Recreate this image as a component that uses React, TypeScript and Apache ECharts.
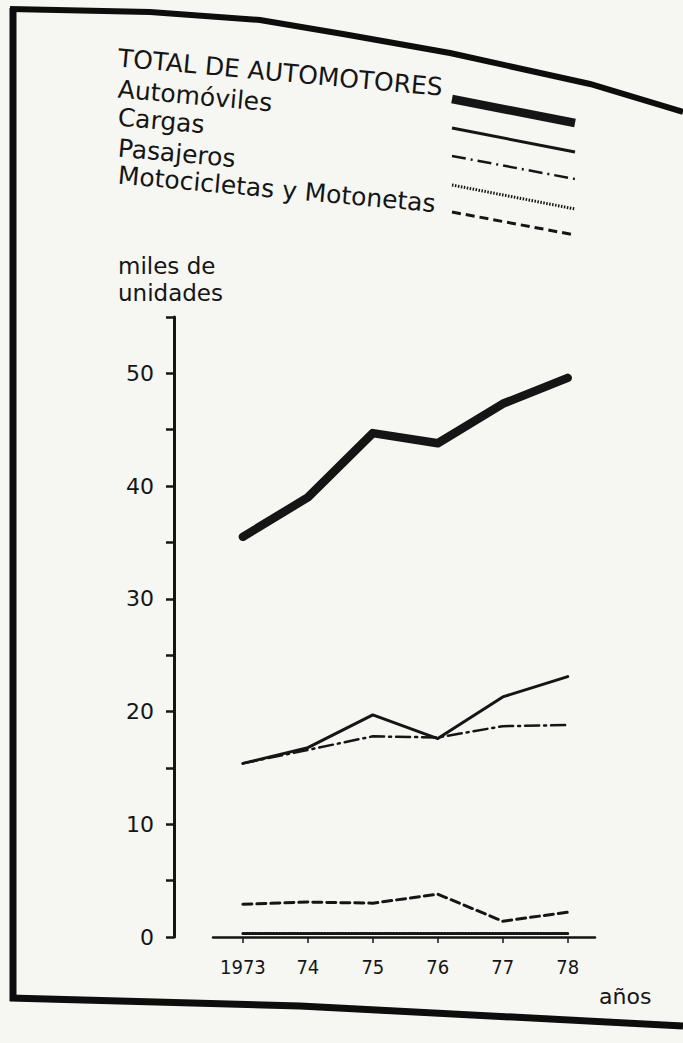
import React, { useEffect, useRef } from "react";
import * as echarts from "echarts";

const years = [1973, 1974, 1975, 1976, 1977, 1978];
const total = [35.5, 39.0, 44.7, 43.8, 47.3, 49.6];
const automoviles = [15.4, 16.8, 19.7, 17.6, 21.3, 23.1];
const cargas = [15.4, 16.6, 17.8, 17.7, 18.7, 18.8];
const pasajeros = [0.3, 0.3, 0.3, 0.3, 0.3, 0.3];
const motos = [2.9, 3.1, 3.0, 3.8, 1.4, 2.2];
const seriesNames = [
  "TOTAL DE AUTOMOTORES",
  "Automóviles",
  "Cargas",
  "Pasajeros",
  "Motocicletas y Motonetas",
];
const yLabels = [0, 10, 20, 30, 40, 50];

const FONT = "'DejaVu Sans', sans-serif";
const FONT_C = "'DejaVu Sans Condensed', 'DejaVu Sans', sans-serif";
const INK = "#151515";

const styles: any[] = [
  { width: 8.5, type: "solid" },
  { width: 3, type: "solid" },
  { width: 2.5, type: [14, 5, 2, 5] },
  { width: 3, type: [1.5, 1.5] },
  { width: 3, type: [9, 5] },
];

export default function App() {
  const ref = useRef<HTMLDivElement>(null);
  useEffect(() => {
    if (!ref.current) return;
    const chart = echarts.init(ref.current, null, { renderer: "svg" });
    const dataSets = [total, automoviles, cargas, pasajeros, motos];

    const legendTextY = [58, 89, 117, 148, 175];
    const legendLines = [
      [452, 99, 575, 123],
      [452, 128, 575, 152],
      [452, 156, 575, 179],
      [452, 185, 575, 209],
      [452, 212, 575, 235],
    ];
    const graphics: any[] = [];
    seriesNames.forEach((n, i) => {
      graphics.push({
        type: "text",
        x: 118,
        y: legendTextY[i],
        rotation: -0.09,
        style: {
          text: n,
          font: `25px ${FONT}`,
          fill: INK,
          textVerticalAlign: "middle",
        },
      });
      const l = legendLines[i];
      graphics.push({
        type: "line",
        shape: { x1: l[0], y1: l[1], x2: l[2], y2: l[3] },
        style: {
          stroke: INK,
          lineWidth: styles[i].width,
          lineDash: Array.isArray(styles[i].type) ? styles[i].type : null,
        },
      });
    });
    graphics.push(
      {
        type: "text",
        x: 118,
        y: 252,
        style: { text: "miles de\nunidades", font: `23px ${FONT}`, fill: INK, lineHeight: 27 },
      },
      {
        type: "text",
        x: 599,
        y: 996,
        style: { text: "años", font: `22px ${FONT}`, fill: INK, textVerticalAlign: "middle" },
      },
      // frame
      {
        type: "line",
        shape: { x1: 13, y1: 8, x2: 13, y2: 1001 },
        style: { stroke: "#0d0d0d", lineWidth: 7 },
      },
      {
        type: "polyline",
        shape: { points: [[10, 998], [300, 1006], [683, 1026]] },
        style: { stroke: "#0d0d0d", lineWidth: 7, fill: null },
      },
      {
        type: "polyline",
        shape: {
          points: [[10, 9], [150, 12], [260, 20], [343, 34], [450, 53], [590, 84], [683, 112]],
        },
        style: { stroke: "#0d0d0d", lineWidth: 6, fill: null },
      }
    );

    chart.setOption({
      animation: false,
      backgroundColor: "#f6f6f3",
      grid: { left: 213, right: 88, top: 317, bottom: 106 },
      xAxis: {
        type: "value",
        min: 1972.54,
        max: 1978.42,
        axisLine: { lineStyle: { color: INK, width: 2.5 } },
        axisTick: {
          customValues: years,
          length: 6,
          lineStyle: { color: INK, width: 1.5 },
        },
        axisLabel: {
          customValues: years,
          formatter: (v: number) => (v === 1973 ? "1973" : String(v).slice(2)),
          color: INK,
          fontFamily: FONT_C,
          fontSize: 20,
          margin: 20,
        },
        splitLine: { show: false },
      },
      yAxis: {
        type: "value",
        min: 0,
        max: 55,
        interval: 5,
        offset: 39,
        axisLine: { show: true, lineStyle: { color: INK, width: 3 } },
        axisTick: { show: true, length: 8, lineStyle: { color: INK, width: 2.5 } },
        axisLabel: {
          formatter: (v: number) => (yLabels.includes(v) ? String(v) : ""),
          color: INK,
          fontFamily: FONT,
          fontSize: 22,
          margin: 20,
        },
        splitLine: { show: false },
      },
      graphic: graphics,
      series: dataSets.map((d, i) => ({
        name: seriesNames[i],
        type: "line",
        data: d.map((v, j) => [years[j], v]),
        symbol: "none",
        lineStyle: { color: INK, width: styles[i].width, type: styles[i].type, cap: "round", join: "round" },
        z: i === 3 ? 10 : 5 - i,
      })),
    });
    return () => chart.dispose();
  }, []);
  return (
    <div
      ref={ref}
      style={{ position: "fixed", left: 0, top: 0, width: 683, height: 1043 }}
    />
  );
}
